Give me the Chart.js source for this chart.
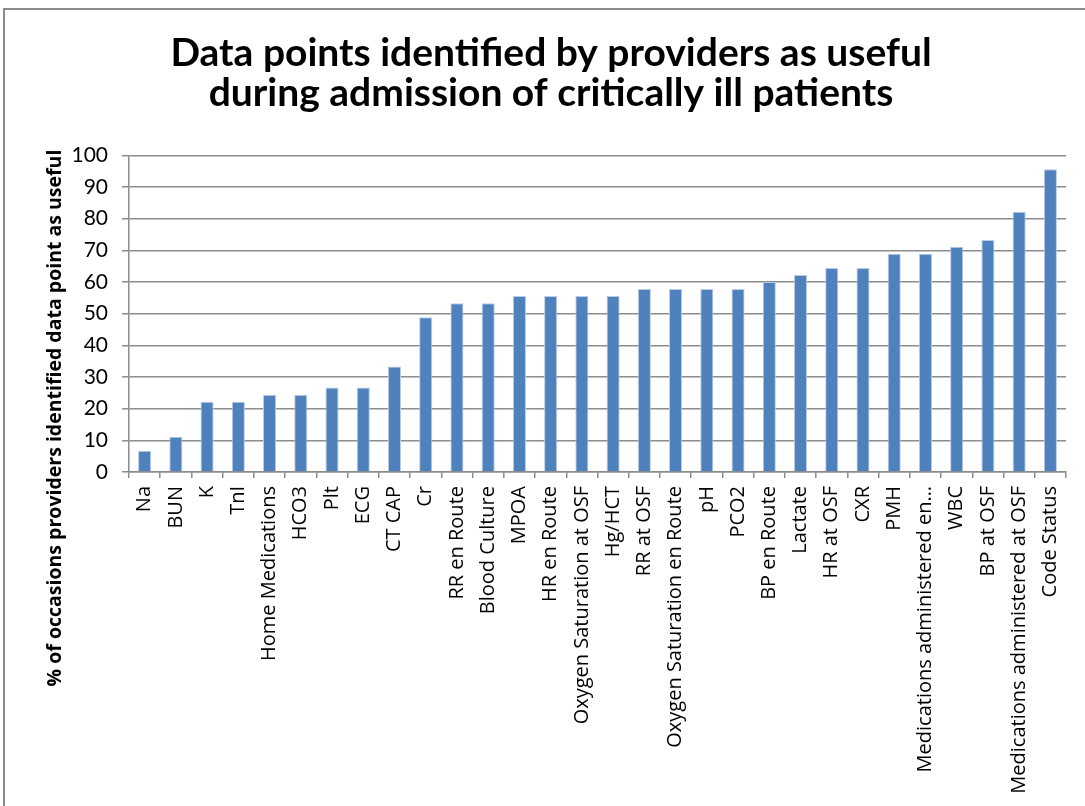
<!DOCTYPE html>
<html>
<head>
<meta charset="utf-8">
<script src="https://cdn.jsdelivr.net/npm/chart.js@4"></script>
<style>
  body { margin: 0; background: #fff; }
  #wrap { position: relative; width: 1085px; height: 806px; overflow: hidden; }
  #frame { position: absolute; left: 3px; top: 8px; width: 1200px; height: 900px; border: 2px solid #8c8c8c; box-sizing: border-box; }
  canvas { position: absolute; left: 0; top: 0; }
</style>
</head>
<body>
<div id="wrap">
  <div id="frame"></div>
  <canvas id="myChart" width="1085" height="806"></canvas>
</div>
<script>
// Categories and values (% of occasions)
const categories = [
  'Na', 'BUN', 'K', 'TnI', 'Home Medications', 'HCO3', 'Plt', 'ECG', 'CT CAP', 'Cr',
  'RR en Route', 'Blood Culture', 'MPOA', 'HR en Route', 'Oxygen Saturation at OSF',
  'Hg/HCT', 'RR at OSF', 'Oxygen Saturation en Route', 'pH', 'PCO2', 'BP en Route',
  'Lactate', 'HR at OSF', 'CXR', 'PMH', 'Medications administered en\u2026', 'WBC',
  'BP at OSF', 'Medications administered at OSF', 'Code Status'
];
const usefulPct = [
  6.7, 11.1, 22.2, 22.2, 24.4, 24.4, 26.7, 26.7, 33.3, 48.9,
  53.3, 53.3, 55.6, 55.6, 55.6, 55.6, 57.8, 57.8, 57.8, 57.8, 60.0,
  62.2, 64.4, 64.4, 68.9, 68.9, 71.1, 73.3, 82.2, 95.6
];
const yTicks = [0, 10, 20, 30, 40, 50, 60, 70, 80, 90, 100];

const titleLines = ['Data points identified by providers as useful', 'during admission of critically ill patients'];
const yTitle = '% of occasions providers identified data point as useful';

const gridGray = '#8c8c8c';

// y axis title, drawn lower than chart.js would centre it (like the original)
const yTitlePlugin = {
    id: 'yTitle',
    afterDraw(chart) {
        const c = chart.ctx;
        c.save();
        c.translate(55, 418);
        c.rotate(-Math.PI / 2);
        c.font = 'bold 19.5px "Open Sans"';
        c.fillStyle = '#000';
        c.textAlign = 'center';
        c.textBaseline = 'middle';
        c.fillText(yTitle, 0, 0);
        c.restore();
    }
};

const ctx = document.getElementById('myChart').getContext('2d');
const myChart = new Chart(ctx, {
    type: 'bar',
    data: {
        labels: categories,
        datasets: [{
            data: usefulPct,
            backgroundColor: '#4f81bd',
            borderColor: '#b9cde5',
            borderWidth: {top: 1, left: 1, right: 1, bottom: 0},
            barPercentage: 0.42,
            categoryPercentage: 1
        }]
    },
    plugins: [yTitlePlugin],
    options: {
        responsive: false,
        animation: false,
        layout: {
            padding: {left: 36, right: 19, top: 33, bottom: 0}
        },
        plugins: {
            legend: {display: false},
            tooltip: {enabled: false},
            title: {
                display: true,
                text: titleLines,
                color: '#000',
                font: {family: 'Lato', size: 39, weight: 'bold', lineHeight: 1.03},
                padding: {top: 0, bottom: 42}
            }
        },
        scales: {
            y: {
                min: 0,
                max: 100,
                afterBuildTicks: (scale) => { scale.ticks = yTicks.map(v => ({value: v})); },
                afterFit: (scale) => { scale.width = 93; },
                grid: {
                    color: gridGray,
                    lineWidth: 1.5,
                    tickLength: 7,
                    drawTicks: true
                },
                border: {color: gridGray, width: 1.5},
                ticks: {
                    color: '#000',
                    padding: 14,
                    font: {family: 'Lato', size: 21}
                }
            },
            x: {
                afterFit: (scale) => { scale.height = 334; },
                grid: {
                    offset: true,
                    drawOnChartArea: false,
                    color: gridGray,
                    lineWidth: 1.5,
                    tickLength: 6
                },
                border: {color: gridGray, width: 1.5},
                ticks: {
                    color: '#000',
                    autoSkip: false,
                    maxRotation: 90,
                    minRotation: 90,
                    padding: 8,
                    font: {family: 'Open Sans', size: 20}
                }
            }
        }
    }
});
</script>
</body>
</html>
